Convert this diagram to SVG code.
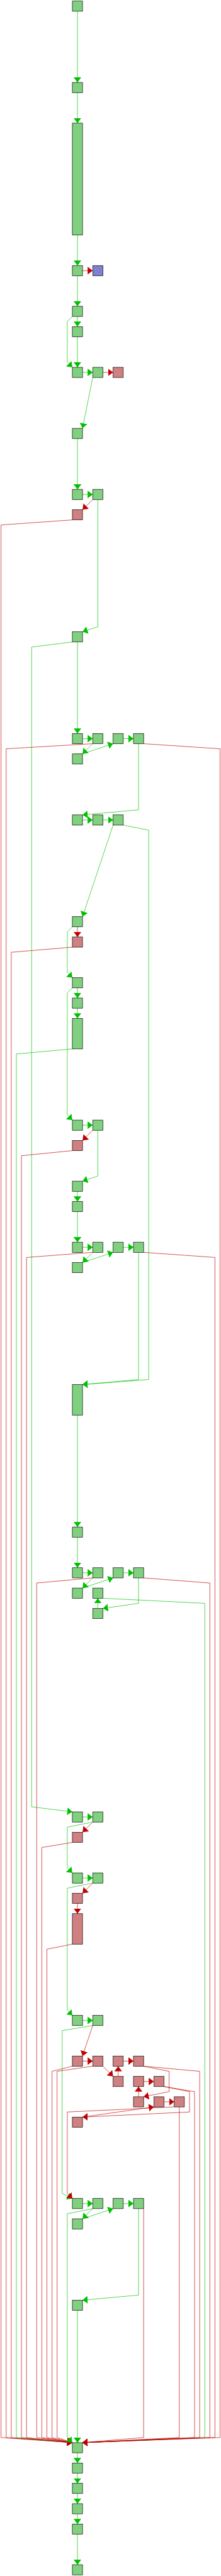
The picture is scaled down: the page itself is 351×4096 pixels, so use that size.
<svg xmlns="http://www.w3.org/2000/svg" width="351" height="4096" viewBox="0 0 351 4096">
<style>
.g{fill:#80d080;stroke:#000;stroke-width:1}
.r{fill:#d08080;stroke:#000;stroke-width:1}
.p{fill:#8080d0;stroke:#000;stroke-width:1}
.eg{fill:none;stroke:#00c000;stroke-width:1}
.er{fill:none;stroke:#c00000;stroke-width:1}
</style>
<defs>
<marker id="ag" markerUnits="userSpaceOnUse" viewBox="0 0 12 18" refX="12" refY="9" markerWidth="12" markerHeight="18" orient="auto"><path d="M0,0L12,9L0,18z" fill="#00c000"/></marker>
<marker id="ar" markerUnits="userSpaceOnUse" viewBox="0 0 12 18" refX="12" refY="9" markerWidth="12" markerHeight="18" orient="auto"><path d="M0,0L12,9L0,18z" fill="#c00000"/></marker>
</defs>
<rect width="351" height="4096" fill="#fff"/>
<g transform="scale(0.674)">
<g id="edges">
<polyline class="eg" marker-end="url(#ag)" points="182.5,26.5 182.5,194.5"/>
<polyline class="eg" marker-end="url(#ag)" points="182.5,218.5 182.5,290.5"/>
<polyline class="eg" marker-end="url(#ag)" points="182.5,554.5 182.5,626.5"/>
<polyline class="er" marker-end="url(#ar)" points="194.5,638.5 218.5,638.5"/>
<polyline class="eg" marker-end="url(#ag)" points="182.5,650.5 182.5,722.5"/>
<polyline class="eg" marker-end="url(#ag)" points="182.5,746.5 182.5,770.5"/>
<polyline class="eg" marker-end="url(#ag)" points="170.5,746.5 158.5,758.5 158.5,854.5 170.5,866.5"/>
<polyline class="eg" marker-end="url(#ag)" points="182.5,794.5 182.5,866.5"/>
<polyline class="eg" marker-end="url(#ag)" points="194.5,878.5 218.5,878.5"/>
<polyline class="er" marker-end="url(#ar)" points="242.5,878.5 266.5,878.5"/>
<polyline class="eg" marker-end="url(#ag)" points="218.5,890.5 194.5,1010.5"/>
<polyline class="eg" marker-end="url(#ag)" points="182.5,1034.5 182.5,1154.5"/>
<polyline class="eg" marker-end="url(#ag)" points="194.5,1166.5 218.5,1166.5"/>
<polyline class="er" marker-end="url(#ar)" points="218.5,1178.5 194.5,1202.5"/>
<polyline class="er" marker-end="url(#ar)" points="170.5,1226.5 2.5,1238.5 2.5,5750.5 170.5,5762.5"/>
<polyline class="eg" marker-end="url(#ag)" points="230.5,1178.5 230.5,1478.5 194.5,1490.5"/>
<polyline class="eg" marker-end="url(#ag)" points="182.5,1514.5 182.5,1730.5"/>
<polyline class="eg" marker-end="url(#ag)" points="170.5,1514.5 74.5,1526.5 74.5,4262.5 170.5,4274.5"/>
<polyline class="eg" marker-end="url(#ag)" points="194.5,1742.5 218.5,1742.5"/>
<polyline class="eg" marker-end="url(#ag)" points="218.5,1754.5 194.5,1778.5"/>
<polyline class="eg" marker-end="url(#ag)" points="194.5,1778.5 266.5,1754.5"/>
<polyline class="eg" marker-end="url(#ag)" points="290.5,1742.5 314.5,1742.5"/>
<polyline class="er" marker-end="url(#ar)" points="218.5,1754.5 14.5,1766.5 14.5,5750.5 170.5,5762.5"/>
<polyline class="er" marker-end="url(#ar)" points="338.5,1754.5 518.5,1766.5 518.5,5750.5 194.5,5762.5"/>
<polyline class="eg" marker-end="url(#ag)" points="326.5,1754.5 326.5,1910.5 194.5,1922.5"/>
<polyline class="eg" marker-end="url(#ag)" points="194.5,1934.5 218.5,1934.5"/>
<polyline class="eg" marker-end="url(#ag)" points="242.5,1934.5 266.5,1934.5"/>
<polyline class="eg" marker-end="url(#ag)" points="266.5,1946.5 194.5,2162.5"/>
<polyline class="eg" marker-end="url(#ag)" points="290.5,1946.5 350.5,1958.5 350.5,3254.5 194.5,3266.5"/>
<polyline class="er" marker-end="url(#ar)" points="182.5,2186.5 182.5,2210.5"/>
<polyline class="eg" marker-end="url(#ag)" points="170.5,2186.5 158.5,2198.5 158.5,2294.5 170.5,2306.5"/>
<polyline class="er" marker-end="url(#ar)" points="170.5,2234.5 26.5,2246.5 26.5,5750.5 170.5,5762.5"/>
<polyline class="eg" marker-end="url(#ag)" points="182.5,2330.5 182.5,2354.5"/>
<polyline class="eg" marker-end="url(#ag)" points="170.5,2330.5 158.5,2342.5 158.5,2630.5 170.5,2642.5"/>
<polyline class="eg" marker-end="url(#ag)" points="182.5,2378.5 182.5,2402.5"/>
<polyline class="eg" marker-end="url(#ag)" points="170.5,2474.5 38.5,2486.5 38.5,5750.5 170.5,5762.5"/>
<polyline class="eg" marker-end="url(#ag)" points="194.5,2654.5 218.5,2654.5"/>
<polyline class="er" marker-end="url(#ar)" points="218.5,2666.5 194.5,2690.5"/>
<polyline class="er" marker-end="url(#ar)" points="170.5,2714.5 50.5,2726.5 50.5,5750.5 170.5,5762.5"/>
<polyline class="eg" marker-end="url(#ag)" points="230.5,2666.5 230.5,2774.5 194.5,2786.5"/>
<polyline class="eg" marker-end="url(#ag)" points="182.5,2810.5 182.5,2834.5"/>
<polyline class="eg" marker-end="url(#ag)" points="182.5,2858.5 182.5,2930.5"/>
<polyline class="eg" marker-end="url(#ag)" points="194.5,2942.5 218.5,2942.5"/>
<polyline class="eg" marker-end="url(#ag)" points="218.5,2954.5 194.5,2978.5"/>
<polyline class="eg" marker-end="url(#ag)" points="194.5,2978.5 266.5,2954.5"/>
<polyline class="eg" marker-end="url(#ag)" points="290.5,2942.5 314.5,2942.5"/>
<polyline class="er" marker-end="url(#ar)" points="218.5,2954.5 62.5,2966.5 62.5,5750.5 170.5,5762.5"/>
<polyline class="er" marker-end="url(#ar)" points="338.5,2954.5 506.5,2966.5 506.5,5750.5 194.5,5762.5"/>
<polyline class="eg" marker-end="url(#ag)" points="326.5,2954.5 326.5,3254.5 194.5,3266.5"/>
<polyline class="eg" marker-end="url(#ag)" points="182.5,3338.5 182.5,3602.5"/>
<polyline class="eg" marker-end="url(#ag)" points="182.5,3626.5 182.5,3698.5"/>
<polyline class="eg" marker-end="url(#ag)" points="194.5,3710.5 218.5,3710.5"/>
<polyline class="eg" marker-end="url(#ag)" points="218.5,3722.5 194.5,3746.5"/>
<polyline class="eg" marker-end="url(#ag)" points="194.5,3746.5 266.5,3722.5"/>
<polyline class="eg" marker-end="url(#ag)" points="290.5,3710.5 314.5,3710.5"/>
<polyline class="eg" marker-end="url(#ag)" points="230.5,3794.5 230.5,3770.5"/>
<polyline class="eg" marker-end="url(#ag)" points="326.5,3722.5 326.5,3782.5 242.5,3794.5"/>
<polyline class="eg" marker-end="url(#ag)" points="242.5,3770.5 482.5,3782.5 482.5,5750.5 194.5,5762.5"/>
<polyline class="er" marker-end="url(#ar)" points="218.5,3722.5 86.5,3734.5 86.5,5750.5 170.5,5762.5"/>
<polyline class="er" marker-end="url(#ar)" points="338.5,3722.5 494.5,3734.5 494.5,5750.5 194.5,5762.5"/>
<polyline class="eg" marker-end="url(#ag)" points="194.5,4286.5 218.5,4286.5"/>
<polyline class="er" marker-end="url(#ar)" points="218.5,4298.5 194.5,4322.5"/>
<polyline class="eg" marker-end="url(#ag)" points="218.5,4298.5 158.5,4310.5 158.5,4406.5 170.5,4418.5"/>
<polyline class="er" marker-end="url(#ar)" points="170.5,4346.5 98.5,4358.5 98.5,5750.5 170.5,5762.5"/>
<polyline class="eg" marker-end="url(#ag)" points="194.5,4430.5 218.5,4430.5"/>
<polyline class="er" marker-end="url(#ar)" points="218.5,4442.5 194.5,4466.5"/>
<polyline class="eg" marker-end="url(#ag)" points="218.5,4442.5 158.5,4454.5 158.5,4742.5 170.5,4754.5"/>
<polyline class="er" marker-end="url(#ar)" points="182.5,4490.5 182.5,4514.5"/>
<polyline class="er" marker-end="url(#ar)" points="170.5,4586.5 110.5,4598.5 110.5,5750.5 170.5,5762.5"/>
<polyline class="eg" marker-end="url(#ag)" points="194.5,4766.5 218.5,4766.5"/>
<polyline class="eg" marker-end="url(#ag)" points="218.5,4778.5 146.5,4790.5 146.5,5174.5 170.5,5186.5"/>
<polyline class="er" marker-end="url(#ar)" points="218.5,4778.5 194.5,4850.5"/>
<polyline class="er" marker-end="url(#ar)" points="194.5,4862.5 218.5,4862.5"/>
<polyline class="er" marker-end="url(#ar)" points="242.5,4874.5 266.5,4898.5"/>
<polyline class="er" marker-end="url(#ar)" points="278.5,4898.5 278.5,4874.5"/>
<polyline class="er" marker-end="url(#ar)" points="290.5,4862.5 314.5,4862.5"/>
<polyline class="er" marker-end="url(#ar)" points="338.5,4910.5 362.5,4910.5"/>
<polyline class="er" marker-end="url(#ar)" points="326.5,4946.5 326.5,4922.5"/>
<polyline class="er" marker-end="url(#ar)" points="386.5,4958.5 410.5,4958.5"/>
<polyline class="er" marker-end="url(#ar)" points="338.5,4874.5 398.5,4886.5 398.5,4934.5 338.5,4946.5"/>
<polyline class="er" marker-end="url(#ar)" points="338.5,4874.5 470.5,4886.5 470.5,5750.5 194.5,5762.5"/>
<polyline class="er" marker-end="url(#ar)" points="386.5,4922.5 446.5,4934.5 446.5,4982.5 194.5,4994.5"/>
<polyline class="er" marker-end="url(#ar)" points="386.5,4922.5 458.5,4934.5 458.5,5750.5 194.5,5762.5"/>
<polyline class="er" marker-end="url(#ar)" points="422.5,4970.5 422.5,5750.5 194.5,5762.5"/>
<polyline class="er" marker-end="url(#ar)" points="170.5,4874.5 122.5,4886.5 122.5,5750.5 170.5,5762.5"/>
<polyline class="er" marker-end="url(#ar)" points="218.5,4874.5 134.5,4886.5 134.5,5750.5 170.5,5762.5"/>
<polyline class="er" marker-end="url(#ar)" points="194.5,4994.5 362.5,4970.5"/>
<polyline class="er" marker-end="url(#ar)" points="410.5,4970.5 158.5,4982.5 158.5,5174.5 170.5,5186.5"/>
<polyline class="eg" marker-end="url(#ag)" points="194.5,5198.5 218.5,5198.5"/>
<polyline class="eg" marker-end="url(#ag)" points="218.5,5210.5 194.5,5234.5"/>
<polyline class="eg" marker-end="url(#ag)" points="194.5,5234.5 266.5,5210.5"/>
<polyline class="eg" marker-end="url(#ag)" points="290.5,5198.5 314.5,5198.5"/>
<polyline class="eg" marker-end="url(#ag)" points="218.5,5210.5 158.5,5222.5 158.5,5750.5 170.5,5762.5"/>
<polyline class="er" marker-end="url(#ar)" points="338.5,5210.5 338.5,5750.5 194.5,5762.5"/>
<polyline class="eg" marker-end="url(#ag)" points="326.5,5210.5 326.5,5414.5 194.5,5426.5"/>
<polyline class="eg" marker-end="url(#ag)" points="182.5,5450.5 182.5,5762.5"/>
<polyline class="eg" marker-end="url(#ag)" points="182.5,5786.5 182.5,5810.5"/>
<polyline class="eg" marker-end="url(#ag)" points="182.5,5834.5 182.5,5858.5"/>
<polyline class="eg" marker-end="url(#ag)" points="182.5,5882.5 182.5,5906.5"/>
<polyline class="eg" marker-end="url(#ag)" points="182.5,5930.5 182.5,5954.5"/>
<polyline class="eg" marker-end="url(#ag)" points="182.5,5978.5 182.5,6050.5"/>
</g>
<g id="n0"><rect class="g" x="170.5" y="2.5" width="24" height="24"/></g>
<g id="n1"><rect class="g" x="170.5" y="194.5" width="24" height="24"/></g>
<g id="n2"><rect class="g" x="170.5" y="290.5" width="24" height="264"/></g>
<g id="n3"><rect class="g" x="170.5" y="626.5" width="24" height="24"/></g>
<g id="n4"><rect class="p" x="218.5" y="626.5" width="24" height="24"/></g>
<g id="n5"><rect class="g" x="170.5" y="722.5" width="24" height="24"/></g>
<g id="n6"><rect class="g" x="170.5" y="770.5" width="24" height="24"/></g>
<g id="n7"><rect class="g" x="170.5" y="866.5" width="24" height="24"/></g>
<g id="n8"><rect class="g" x="218.5" y="866.5" width="24" height="24"/></g>
<g id="n9"><rect class="r" x="266.5" y="866.5" width="24" height="24"/></g>
<g id="n10"><rect class="g" x="170.5" y="1010.5" width="24" height="24"/></g>
<g id="n11"><rect class="g" x="170.5" y="1154.5" width="24" height="24"/></g>
<g id="n12"><rect class="g" x="218.5" y="1154.5" width="24" height="24"/></g>
<g id="n13"><rect class="r" x="170.5" y="1202.5" width="24" height="24"/></g>
<g id="n14"><rect class="g" x="170.5" y="1490.5" width="24" height="24"/></g>
<g id="n15"><rect class="g" x="170.5" y="1730.5" width="24" height="24"/></g>
<g id="n16"><rect class="g" x="218.5" y="1730.5" width="24" height="24"/></g>
<g id="n17"><rect class="g" x="266.5" y="1730.5" width="24" height="24"/></g>
<g id="n18"><rect class="g" x="314.5" y="1730.5" width="24" height="24"/></g>
<g id="n19"><rect class="g" x="170.5" y="1778.5" width="24" height="24"/></g>
<g id="n20"><rect class="g" x="170.5" y="1922.5" width="24" height="24"/></g>
<g id="n21"><rect class="g" x="218.5" y="1922.5" width="24" height="24"/></g>
<g id="n22"><rect class="g" x="266.5" y="1922.5" width="24" height="24"/></g>
<g id="n23"><rect class="g" x="170.5" y="2162.5" width="24" height="24"/></g>
<g id="n24"><rect class="r" x="170.5" y="2210.5" width="24" height="24"/></g>
<g id="n25"><rect class="g" x="170.5" y="2306.5" width="24" height="24"/></g>
<g id="n26"><rect class="g" x="170.5" y="2354.5" width="24" height="24"/></g>
<g id="n27"><rect class="g" x="170.5" y="2402.5" width="24" height="72"/></g>
<g id="n28"><rect class="g" x="170.5" y="2642.5" width="24" height="24"/></g>
<g id="n29"><rect class="g" x="218.5" y="2642.5" width="24" height="24"/></g>
<g id="n30"><rect class="r" x="170.5" y="2690.5" width="24" height="24"/></g>
<g id="n31"><rect class="g" x="170.5" y="2786.5" width="24" height="24"/></g>
<g id="n32"><rect class="g" x="170.5" y="2834.5" width="24" height="24"/></g>
<g id="n33"><rect class="g" x="170.5" y="2930.5" width="24" height="24"/></g>
<g id="n34"><rect class="g" x="218.5" y="2930.5" width="24" height="24"/></g>
<g id="n35"><rect class="g" x="266.5" y="2930.5" width="24" height="24"/></g>
<g id="n36"><rect class="g" x="314.5" y="2930.5" width="24" height="24"/></g>
<g id="n37"><rect class="g" x="170.5" y="2978.5" width="24" height="24"/></g>
<g id="n38"><rect class="g" x="170.5" y="3266.5" width="24" height="72"/></g>
<g id="n39"><rect class="g" x="170.5" y="3602.5" width="24" height="24"/></g>
<g id="n40"><rect class="g" x="170.5" y="3698.5" width="24" height="24"/></g>
<g id="n41"><rect class="g" x="218.5" y="3698.5" width="24" height="24"/></g>
<g id="n42"><rect class="g" x="266.5" y="3698.5" width="24" height="24"/></g>
<g id="n43"><rect class="g" x="314.5" y="3698.5" width="24" height="24"/></g>
<g id="n44"><rect class="g" x="170.5" y="3746.5" width="24" height="24"/></g>
<g id="n45"><rect class="g" x="218.5" y="3746.5" width="24" height="24"/></g>
<g id="n46"><rect class="g" x="218.5" y="3794.5" width="24" height="24"/></g>
<g id="n47"><rect class="g" x="170.5" y="4274.5" width="24" height="24"/></g>
<g id="n48"><rect class="g" x="218.5" y="4274.5" width="24" height="24"/></g>
<g id="n49"><rect class="r" x="170.5" y="4322.5" width="24" height="24"/></g>
<g id="n50"><rect class="g" x="170.5" y="4418.5" width="24" height="24"/></g>
<g id="n51"><rect class="g" x="218.5" y="4418.5" width="24" height="24"/></g>
<g id="n52"><rect class="r" x="170.5" y="4466.5" width="24" height="24"/></g>
<g id="n53"><rect class="r" x="170.5" y="4514.5" width="24" height="72"/></g>
<g id="n54"><rect class="g" x="170.5" y="4754.5" width="24" height="24"/></g>
<g id="n55"><rect class="g" x="218.5" y="4754.5" width="24" height="24"/></g>
<g id="n56"><rect class="r" x="170.5" y="4850.5" width="24" height="24"/></g>
<g id="n57"><rect class="r" x="218.5" y="4850.5" width="24" height="24"/></g>
<g id="n58"><rect class="r" x="266.5" y="4850.5" width="24" height="24"/></g>
<g id="n59"><rect class="r" x="314.5" y="4850.5" width="24" height="24"/></g>
<g id="n60"><rect class="r" x="266.5" y="4898.5" width="24" height="24"/></g>
<g id="n61"><rect class="r" x="314.5" y="4898.5" width="24" height="24"/></g>
<g id="n62"><rect class="r" x="362.5" y="4898.5" width="24" height="24"/></g>
<g id="n63"><rect class="r" x="314.5" y="4946.5" width="24" height="24"/></g>
<g id="n64"><rect class="r" x="362.5" y="4946.5" width="24" height="24"/></g>
<g id="n65"><rect class="r" x="410.5" y="4946.5" width="24" height="24"/></g>
<g id="n66"><rect class="r" x="170.5" y="4994.5" width="24" height="24"/></g>
<g id="n67"><rect class="g" x="170.5" y="5186.5" width="24" height="24"/></g>
<g id="n68"><rect class="g" x="218.5" y="5186.5" width="24" height="24"/></g>
<g id="n69"><rect class="g" x="266.5" y="5186.5" width="24" height="24"/></g>
<g id="n70"><rect class="g" x="314.5" y="5186.5" width="24" height="24"/></g>
<g id="n71"><rect class="g" x="170.5" y="5234.5" width="24" height="24"/></g>
<g id="n72"><rect class="g" x="170.5" y="5426.5" width="24" height="24"/></g>
<g id="n73"><rect class="g" x="170.5" y="5762.5" width="24" height="24"/></g>
<g id="n74"><rect class="g" x="170.5" y="5810.5" width="24" height="24"/></g>
<g id="n75"><rect class="g" x="170.5" y="5858.5" width="24" height="24"/></g>
<g id="n76"><rect class="g" x="170.5" y="5906.5" width="24" height="24"/></g>
<g id="n77"><rect class="g" x="170.5" y="5954.5" width="24" height="24"/></g>
<g id="n78"><rect class="g" x="170.5" y="6050.5" width="24" height="24"/></g>
</g>
</svg>
